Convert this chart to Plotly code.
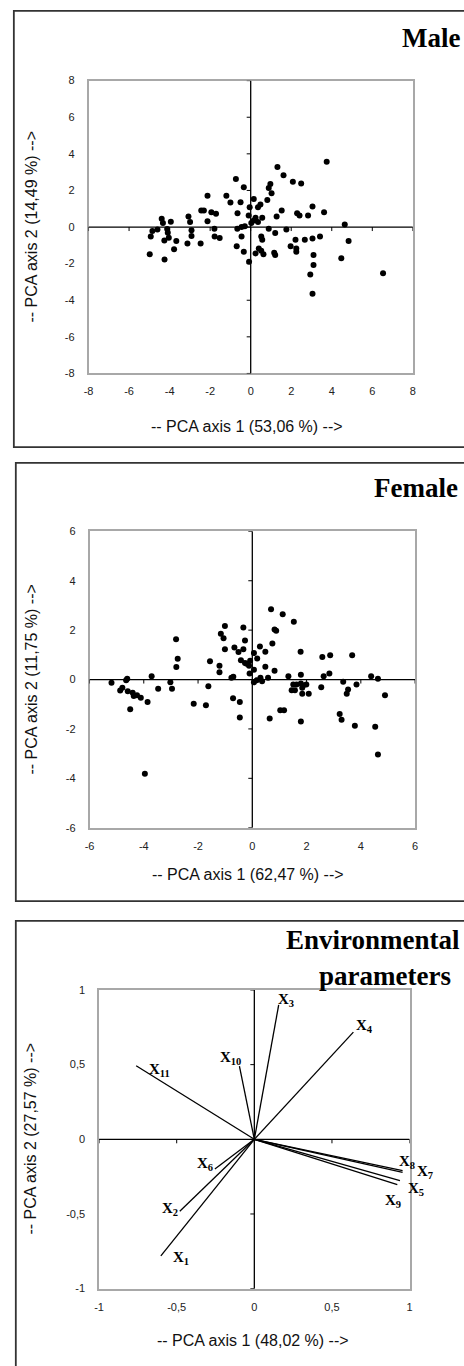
import plotly.graph_objects as go

W, H = 464, 1366

# ---------------- data ----------------
male_pc1 = [-4.98, -4.93, -4.85, -4.60, -4.39, -4.33, -4.26, -4.25, -4.12, -4.09, -4.04, -3.94,
            -3.78, -3.67, -3.12, -3.07, -2.99, -2.92, -2.92, -2.47, -2.44, -2.31, -2.13, -2.13,
            -1.94, -1.79, -1.78, -1.71, -1.53, -1.20, -1.00,
            -0.73, -0.34, -0.50, 0.15, -0.05, 0.36, 0.48, -0.65, -0.10, 0.24, 0.15, 0.03, 0.36,
            0.57, -0.66, -0.45, -0.29, 0.89, 1.21, 1.76, -0.45, 0.52, 0.57, -0.69, -0.34, 0.40,
            0.52, 0.24, 0.63, 1.16, 1.21, 1.97, 2.21, 2.25, 2.25, 2.67, 3.05, 3.10, -0.08, 3.10,
            0.89, 0.97, 1.03, 0.82, 1.62, 2.08, 2.49, 1.28, 1.53, 2.29, 2.41, 2.83, 3.05,
            1.32, 3.75, 3.62, 4.64, 3.42, 4.83, 4.47, 2.94, 6.53, 3.05]
male_pc2 = [-1.48, -0.51, -0.22, -0.13, 0.45, 0.22, -0.74, -1.77, -0.11, -0.31, -0.58, 0.29,
            -1.21, -0.76, -0.90, 0.58, 0.27, -0.18, -0.49, -0.90, 0.90, 0.90, 1.71, 0.31,
            0.81, -0.09, -0.51, 0.72, -0.60, 1.71, 1.34,
            2.62, 2.17, 1.35, 1.53, 1.08, 1.08, 1.23, 0.76, 0.63, 0.51, 0.36, 0.22, 0.27,
            0.51, -0.10, 0.00, 0.04, -0.09, -0.32, -0.14, -0.51, -0.51, -0.69, -1.05, -1.35, -1.17,
            -1.30, -1.44, -1.48, -1.41, -1.53, -1.05, -0.69, -1.17, -1.35, -0.69, -0.63, -1.53, -1.90, -2.08,
            2.13, 2.35, 1.84, 1.48, 2.83, 2.47, 2.38, 0.58, 0.90, 0.76, 0.63, 0.63, 1.12,
            3.28, 3.57, 0.81, 0.14, -0.51, -0.76, -1.71, -2.60, -2.53, -3.65]

female_pc1 = [-5.19, -4.87, -4.79, -4.65, -4.61, -4.59, -4.50, -4.41, -4.37, -4.25, -4.11, -3.86,
              -3.96, -3.71, -3.47, -3.02, -2.96, -2.81, -2.75, -2.80, -2.16, -1.71, -1.62, -1.56,
              -1.21, -1.21, -1.16, -1.06, -1.01, -1.01, -0.77, -0.70, -0.71, -0.66, -0.51, -0.46,
              -0.46, -0.42, -0.33, -0.33, -0.27, -0.27, -0.12, -0.08, -0.10, 0.06, 0.06, 0.18,
              0.06, 0.28, -0.21, 0.48, 0.69, 1.12, 1.53, 0.82, 0.88, 0.74, 0.48, 0.82, 0.16,
              0.30, 0.36, 0.58, 1.33, 1.78, 1.79, 1.51, 1.63, 1.79, 1.87, 1.99, 1.45, 1.57,
              1.84, 1.84, 2.08, 2.54, 2.58, 2.87, 2.63, 2.84, 3.35, 3.53, 3.48, 3.84, 3.68,
              4.38, 4.63, 4.89, 3.22, 3.29, 3.78, 4.53, 4.63, 0.64, 1.03, 1.17, 1.79]
female_pc2 = [-0.13, -0.44, -0.33, -0.03, 0.03, -0.47, -1.20, -0.54, -0.67, -0.64, -0.74, -0.91,
              -3.81, 0.13, -0.37, -0.11, -0.37, 1.63, 0.84, 0.51, -0.98, -1.04, -0.27, 0.74,
              0.56, 0.29, 1.85, 1.67, 2.17, 1.23, 0.07, 0.11, -0.76, 1.30, 1.11, -0.91,
              -1.54, 0.78, 2.11, 1.23, 1.58, 0.67, 0.56, 0.76, 0.24, 1.07, 0.40, 0.85,
              -0.11, 1.34, 0.64, 1.12, 2.85, 2.64, 2.34, 2.03, 1.97, 1.46, 0.52, 0.36, -0.03,
              0.07, -0.07, 0.07, 0.13, 1.12, 0.19, -0.20, -0.20, -0.16, -0.24, -0.20, -0.43, -0.43,
              -0.33, -0.58, -0.58, -0.31, 0.91, 0.98, 0.13, 0.24, -0.09, -0.40, -0.58, -0.20, 0.98,
              0.13, 0.03, -0.64, -1.40, -1.63, -1.87, -1.91, -3.04, -1.58, -1.24, -1.24, -1.70]

env_names = ["1", "2", "3", "4", "5", "6", "7", "8", "9", "10", "11"]
env_pc1 = [-0.602, -0.480, 0.157, 0.638, 0.938, -0.254, 0.955, 0.955, 0.921, -0.096, -0.761]
env_pc2 = [-0.781, -0.482, 0.900, 0.718, -0.277, -0.199, -0.222, -0.210, -0.303, 0.490, 0.493]

male_ticks = [-8, -6, -4, -2, 0, 2, 4, 6, 8]
female_ticks = [-6, -4, -2, 0, 2, 4, 6]
env_ticks = [-1, -0.5, 0, 0.5, 1]
env_ticktext = ["-1", "-0,5", "0", "0,5", "1"]

titles = ["Male", "Female"]
x_titles = ["-- PCA axis 1 (53,06 %) -->", "-- PCA axis 1 (62,47 %) -->", "-- PCA axis 1 (48,02 %) -->"]
y_titles = ["-- PCA axis 2 (14,49 %) -->", "-- PCA axis 2 (11,75 %) -->", "-- PCA axis 2 (27,57 %) -->"]

# label offsets (pixels) from each vector tip -- styling only
label_dx = [20, -9.5, 7.5, 11.5, 16.5, -10, 22, 4, -4, -8.5, 23.5]
label_dy = [-2, 2.5, 4.5, 6, -8.5, 5, 0, 8.5, -16, 8, -4.5]

# ---------------- layout helpers ----------------
def fx(p):
    return p / W

def fy(p):
    return 1 - p / H

SANS = "Liberation Sans, Arial, sans-serif"
SERIF = "Liberation Serif, Times New Roman, serif"
TICKFONT = dict(family=SANS, size=11, color="#222")

panels = [
    dict(xpx=(85, 415), ypx=(75.3, 370.7), rng=8, tv=male_ticks, tt=[str(t) for t in male_ticks]),
    dict(xpx=(86, 417.3), ypx=(530, 829), rng=6, tv=female_ticks, tt=[str(t) for t in female_ticks]),
    dict(xpx=(95.7, 411.7), ypx=(992.7, 1294), rng=1, tv=env_ticks, tt=env_ticktext),
]

layout = dict(width=W, height=H, margin=dict(l=0, r=0, t=0, b=0),
              paper_bgcolor="white", plot_bgcolor="white", showlegend=False)

shapes = []
for i, p in enumerate(panels):
    n = i + 1
    sfx = "" if n == 1 else str(n)
    xd = [fx(p["xpx"][0]), fx(p["xpx"][1])]
    yd = [fy(p["ypx"][1]), fy(p["ypx"][0])]
    r = [-p["rng"], p["rng"]]
    common = dict(range=r, tickmode="array", tickvals=p["tv"], ticktext=p["tt"],
                  showgrid=False, zeroline=False, fixedrange=True,
                  showline=True, mirror=True, linecolor="#a8a8a8", linewidth=1.5,
                  ticks="", tickfont=TICKFONT)
    layout["xaxis" + sfx] = dict(domain=xd, anchor="y" + sfx, ticklabelstandoff=7, **common)
    layout["yaxis" + sfx] = dict(domain=yd, anchor="x" + sfx, ticklabelstandoff=10, **common)
    xr, yr = "x" + sfx, "y" + sfx
    # black axes through the origin
    shapes.append(dict(type="line", xref=xr, yref=yr, x0=r[0], x1=r[1], y0=0, y1=0,
                       line=dict(color="black", width=1.3), layer="above"))
    shapes.append(dict(type="line", xref=xr, yref=yr, x0=0, x1=0, y0=r[0], y1=r[1],
                       line=dict(color="black", width=1.3), layer="above"))
    # tick marks on the origin axes
    for t in p["tv"]:
        shapes.append(dict(type="line", xref=xr, yref=yr, ysizemode="pixel", yanchor=0,
                           x0=t, x1=t, y0=0, y1=-4, line=dict(color="black", width=1)))
        shapes.append(dict(type="line", xref=xr, yref=yr, xsizemode="pixel", xanchor=0,
                           y0=t, y1=t, x0=0, x1=-4, line=dict(color="black", width=1)))

# frames round each panel
frames = [(9, 5, 475, 445), (11, 461, 475, 903), (11, 923, 475, 1380)]
for (x0, y0, x1, y1) in frames:
    shapes.append(dict(type="rect", xref="paper", yref="paper",
                       x0=fx(x0), x1=fx(x1), y0=fy(y1), y1=fy(y0),
                       line=dict(color="#333", width=1.8), fillcolor="rgba(0,0,0,0)"))
layout["shapes"] = shapes

fig = go.Figure()
fig.update_layout(**layout)

marker = dict(color="black", size=6)
fig.add_trace(go.Scatter(x=male_pc1, y=male_pc2, mode="markers", marker=marker,
                         xaxis="x", yaxis="y", hoverinfo="x+y"))
fig.add_trace(go.Scatter(x=female_pc1, y=female_pc2, mode="markers", marker=marker,
                         xaxis="x2", yaxis="y2", hoverinfo="x+y"))

vx, vy = [], []
for a, b in zip(env_pc1, env_pc2):
    vx += [0, a, None]
    vy += [0, b, None]
fig.add_trace(go.Scatter(x=vx, y=vy, mode="lines", line=dict(color="black", width=1.3),
                         xaxis="x3", yaxis="y3", hoverinfo="skip"))

# ---------------- text ----------------
ann = []
for name, a, b, dx, dy in zip(env_names, env_pc1, env_pc2, label_dx, label_dy):
    ann.append(dict(text="<b>X<sub>%s</sub></b>" % name, x=a, y=b, xref="x3", yref="y3",
                    xshift=dx, yshift=dy, xanchor="center", yanchor="middle", showarrow=False,
                    font=dict(family=SERIF, size=15, color="black")))

title_pos = [(465, 32.5), (463, 486)]
for t, (x, y) in zip(titles, title_pos):
    ann.append(dict(text="<b>%s</b>" % t, x=fx(x), y=fy(y), xref="paper", yref="paper",
                    xanchor="right", yanchor="middle", showarrow=False,
                    font=dict(family=SERIF, size=27, color="black")))
ann.append(dict(text="<b>Environmental</b>", x=fx(465), y=fy(942.5), xref="paper", yref="paper",
                xanchor="right", yanchor="middle", showarrow=False,
                font=dict(family=SERIF, size=27, color="black")))
ann.append(dict(text="<b>parameters</b>", x=fx(456), y=fy(978.5), xref="paper", yref="paper",
                xanchor="right", yanchor="middle", showarrow=False,
                font=dict(family=SERIF, size=27, color="black")))

xt_pos = [(246, 424.5), (247.5, 876), (252.5, 1346.5)]
yt_pos = [(26, 223), (26, 680), (26, 1143)]
for i in range(3):
    ann.append(dict(text=x_titles[i], x=fx(xt_pos[i][0]), y=fy(xt_pos[i][1]),
                    xref="paper", yref="paper", xanchor="center", yanchor="middle",
                    showarrow=False, font=dict(family=SANS, size=16, color="#111")))
    ann.append(dict(text=y_titles[i], x=fx(yt_pos[i][0]), y=fy(yt_pos[i][1]),
                    xref="paper", yref="paper", xanchor="center", yanchor="middle",
                    textangle=-90, showarrow=False, font=dict(family=SANS, size=16, color="#111")))
fig.update_layout(annotations=ann)

page_js = ("document.body.style.margin='0';document.body.style.padding='0';"
           "document.body.style.overflow='hidden';"
           "document.documentElement.style.overflow='hidden';")
fig.write_html("out.html", post_script=page_js, config={"displayModeBar": False})
